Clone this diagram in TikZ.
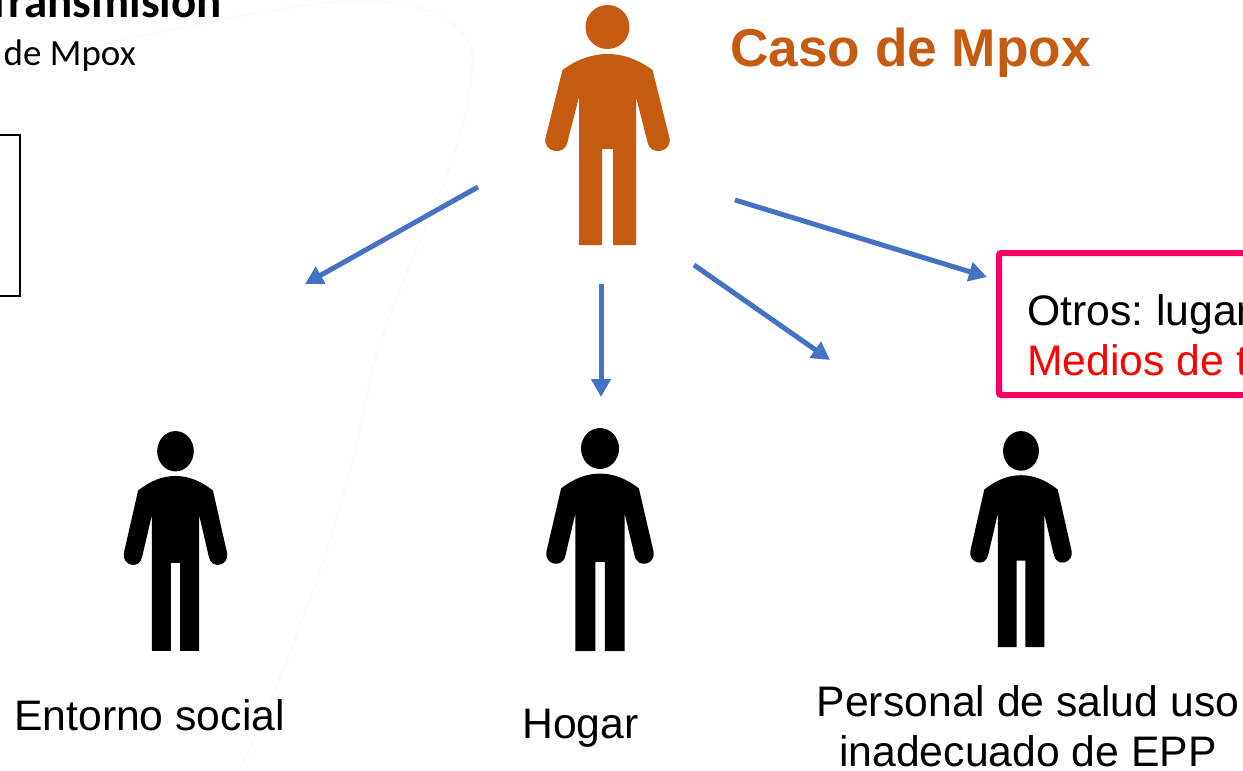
\documentclass[tikz,border=0pt]{standalone}
\usepackage{fontspec}
\setmainfont{Liberation Sans}
\newfontfamily\calibrifont{Carlito}
\usetikzlibrary{arrows.meta, positioning}
\definecolor{casoorange}{HTML}{C55A11}
\definecolor{arrowblue}{HTML}{4472C4}
\definecolor{boxpink}{HTML}{FF0066}
\begin{document}
\begin{tikzpicture}[
x=1pt, y=-1pt,
person/.pic={
  \fill[pic actions] (0,21) circle [radius=22];
  \fill[pic actions] (-45,64) .. controls (-30,53) and (-15,48) .. (0,48)
    .. controls (15,48) and (30,53) .. (45,64) -- (62,132)
    .. controls (65,146) and (43,151) .. (40,136) -- (28.5,91) -- (28.5,239)
    -- (5.5,239) -- (5.5,143) -- (-5.5,143) -- (-5.5,239) -- (-28.5,239)
    -- (-28.5,91) -- (-40,136) .. controls (-43,151) and (-65,146) .. (-62,132) -- cycle;
},
label/.style={font=\fontsize{42.7}{50}\selectfont, inner sep=0pt, text=black},
blackperson/.style={fill=black},
flow/.style={-{Triangle[length=18pt,width=19pt]}, draw=arrowblue, line width=5pt},
]
\useasboundingbox (0,0) rectangle (1243,771);

%Background
\draw[black!2, line width=2pt] (0,68) .. controls (120,40) and (230,15) .. (330,2)
  .. controls (420,-5) and (480,20) .. (472,70)
  .. controls (465,170) and (400,260) .. (370,380)
  .. controls (345,520) and (290,660) .. (240,771);

%Nodes
\pic[fill=casoorange] (caso) at (607.5,6) {person};
\pic[blackperson, xscale=0.832, yscale=0.916] (social) at (175.5,432) {person};
\pic[blackperson, xscale=0.864, yscale=0.929] (hogar) at (600,429) {person};
\pic[blackperson, xscale=0.816, yscale=0.9] (salud) at (1021,432) {person};

\node[inner sep=0pt, anchor=base east, font=\calibrifont\bfseries\fontsize{47}{50}\selectfont] (title) at (222,17) {Transmisión};
\node[inner sep=0pt, anchor=base east, font=\calibrifont\fontsize{37}{40}\selectfont] (subtitle) at (136,65) {de Mpox};
\node[draw=black, line width=2pt, minimum width=60pt, minimum height=161pt, inner sep=0pt, anchor=north east] (leftbox) at (21,134) {};
\node[inner sep=0pt, anchor=base west, text=casoorange, font=\bfseries\fontsize{53.2}{60}\selectfont] (casotext) at (730,66) {Caso de Mpox};

\node[draw=boxpink, line width=6pt, rounded corners=2pt, minimum width=300pt, minimum height=142pt, anchor=north west] (otrosbox) at (996,250) {};
\node[label, anchor=base west] (otros) at (1027,325) {Otros:\hspace{-3pt} lugar};
\node[label, anchor=base west, text=red] (medios) at (1027,375) {Medios de t};

\node[label, anchor=base west] (entorno) at (14,730) {Entorno social};
\node[label, anchor=base west] (hogartext) at (522,738) {Hogar};
\node[label, anchor=base, align=center] (personal) at (1028,716) {Personal de salud uso};
\node[label, below=0pt of personal.base, anchor=base, yshift=-50pt] (inadecuado) {inadecuado de EPP};

\coordinate (fromsocial) at (478,187);
\coordinate (tosocial) at (305,284);
\coordinate (fromhogar) at (601,284);
\coordinate (tohogar) at (601,397);
\coordinate (fromsalud) at (694,265);
\coordinate (tosalud) at (830,360);
\coordinate (fromotros) at (735,200);
\coordinate (tootros) at (987,277);

%Lines
\draw[flow] (fromsocial) -- (tosocial);
\draw[flow] (fromhogar) -- (tohogar);
\draw[flow] (fromsalud) -- (tosalud);
\draw[flow] (fromotros) -- (tootros);

\end{tikzpicture}
\end{document}
